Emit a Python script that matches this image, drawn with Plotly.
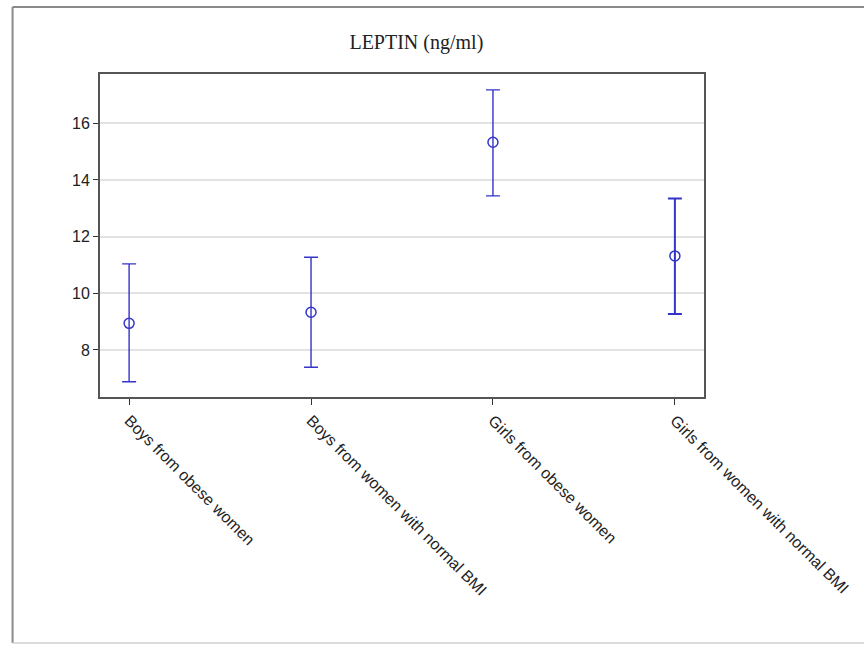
import plotly.graph_objects as go

categories = ["Boys from obese women", "Boys from women with normal BMI",
              "Girls from obese women", "Girls from women with normal BMI"]
means = [8.94, 9.33, 15.33, 11.32]
upper = [11.04, 11.27, 17.18, 13.35]
lower = [6.88, 7.39, 13.44, 9.27]
y_ticks = [8, 10, 12, 14, 16]

err_plus = [u - m for u, m in zip(upper, means)]
err_minus = [m - l for m, l in zip(means, lower)]

blue = "#3434c8"
fig = go.Figure()
for i in range(len(categories)):
    fig.add_trace(go.Scatter(
        x=[i], y=[means[i]], mode="markers",
        marker=dict(symbol="circle-open", size=10, color=blue, line=dict(width=1.5, color=blue)),
        error_y=dict(type="data", symmetric=False, array=[err_plus[i]], arrayminus=[err_minus[i]],
                     color=blue, thickness=2 if i == 3 else 1.4, width=7),
        showlegend=False, hoverinfo="y"))

L, R, T, B = 100, 156, 74, 248
pw, ph = 864 - L - R, 645 - T - B
def px(x): return (x - L) / pw
def py(y): return (645 - B - y) / ph

frame = dict(type="line", xref="paper", yref="paper", line=dict(color="#8a8a8a", width=2), layer="below")
fig.update_layout(
    width=864, height=645,
    margin=dict(l=L, r=R, t=T, b=B),
    paper_bgcolor="white", plot_bgcolor="white",
    title=dict(text="LEPTIN (ng/ml)", x=px(393), xanchor="center", y=1 - 42 / 645, yanchor="middle",
               font=dict(family="Liberation Serif, Times New Roman, serif", size=20, color="#222")),
    xaxis=dict(range=[-0.16, 3.16], tickmode="array", tickvals=list(range(len(categories))),
               ticktext=categories, tickangle=45, ticks="outside", ticklen=6, tickwidth=1.2,
               tickcolor="#333", showgrid=False, zeroline=False,
               showline=True, linecolor="#555", linewidth=2, mirror=True,
               tickfont=dict(family="Liberation Sans, Arial, sans-serif", size=16, color="#222")),
    yaxis=dict(range=[6.34, 17.74], tickmode="array", tickvals=y_ticks,
               ticks="outside", ticklen=5, tickwidth=1.2, tickcolor="#333",
               showgrid=True, gridcolor="#e2e2e2", gridwidth=1.5, zeroline=False,
               showline=True, linecolor="#555", linewidth=2, mirror=True,
               tickfont=dict(family="Liberation Sans, Arial, sans-serif", size=16, color="#222")),
    shapes=[
        dict(frame, x0=px(12), x1=px(12), y0=py(643), y1=py(7)),
        dict(frame, x0=px(12), x1=px(900), y0=py(7), y1=py(7)),
        dict(frame, x0=px(12), x1=px(900), y0=py(643), y1=py(643), line=dict(color="#d0d0d0", width=1.5)),
    ],
)

fig.write_html("out.html", config={"displayModeBar": False},
               post_script="document.body.style.margin='0';document.body.style.overflow='hidden';")
